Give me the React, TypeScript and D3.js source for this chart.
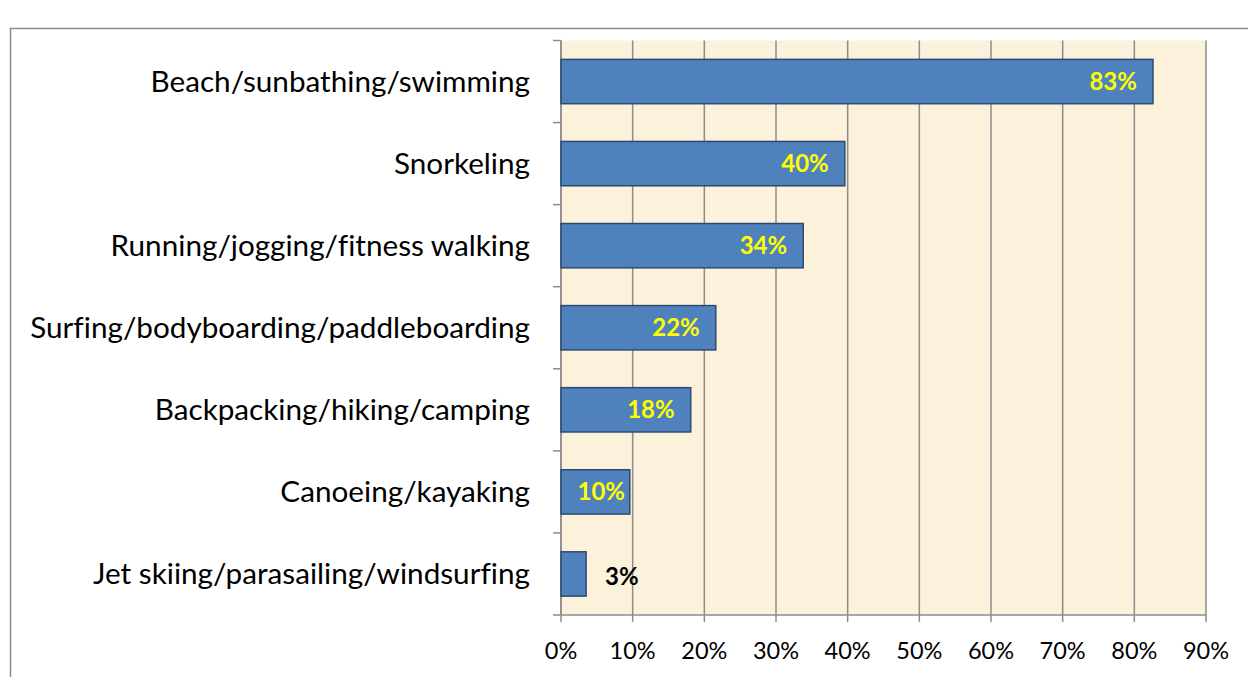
import React from "react";
import * as d3 from "d3";

const categories: string[] = [
  "Beach/sunbathing/swimming",
  "Snorkeling",
  "Running/jogging/fitness walking",
  "Surfing/bodyboarding/paddleboarding",
  "Backpacking/hiking/camping",
  "Canoeing/kayaking",
  "Jet skiing/parasailing/windsurfing",
];
const values: number[] = [82.6, 39.6, 33.8, 21.6, 18.1, 9.6, 3.5];
const valueLabels: string[] = ["83%", "40%", "34%", "22%", "18%", "10%", "3%"];
const xTicks: number[] = [0, 10, 20, 30, 40, 50, 60, 70, 80, 90];

const W = 1248;
const H = 677;
const plot = { left: 561, right: 1206, top: 40.5, bottom: 615 };
const FONT = "Lato, 'Open Sans', sans-serif";

export default function App() {
  const x = d3.scaleLinear().domain([0, 90]).range([plot.left, plot.right]);
  const y = d3
    .scaleBand<string>()
    .domain(categories)
    .range([plot.top, plot.bottom])
    .paddingInner(0.46)
    .paddingOuter(0.23);
  const step = (plot.bottom - plot.top) / categories.length;
  const boundaries = d3.range(categories.length + 1).map((i) => plot.top + i * step);

  return (
    <svg
      width={W}
      height={H}
      style={{
        position: "absolute",
        left: 0,
        top: 0,
        background: "#fff",
        fontVariantLigatures: "none",
        fontFeatureSettings: '"liga" 0, "clig" 0',
      }}
      fontFamily={FONT}
    >
      {/* outer frame */}
      <path d={`M10.5,${H} V28.5 H${W}`} fill="none" stroke="#8c8c8c" strokeWidth={1.5} />

      {/* plot background */}
      <rect
        x={plot.left}
        y={plot.top}
        width={plot.right - plot.left}
        height={plot.bottom - plot.top}
        fill="#fcf1da"
      />

      {/* gridlines */}
      {xTicks.map((t) => (
        <line
          key={"g" + t}
          x1={x(t)}
          x2={x(t)}
          y1={plot.top}
          y2={plot.bottom + 7}
          stroke="#8c8c8c"
          strokeWidth={1.5}
        />
      ))}

      {/* category axis ticks */}
      {boundaries.map((b, i) => (
        <line key={"t" + i} x1={553} x2={plot.left} y1={b} y2={b} stroke="#8c8c8c" strokeWidth={1.5} />
      ))}
      <line x1={plot.left} x2={plot.left} y1={plot.top} y2={plot.bottom} stroke="#8c8c8c" strokeWidth={1.5} />
      {/* value axis line */}
      <line x1={plot.left} x2={plot.right} y1={plot.bottom} y2={plot.bottom} stroke="#8c8c8c" strokeWidth={1.5} />

      {/* bars */}
      {categories.map((c, i) => (
        <rect
          key={"b" + c}
          x={x(0)}
          y={y(c)!}
          width={x(values[i]) - x(0)}
          height={y.bandwidth()}
          fill="#4f81bd"
          stroke="#2c4a70"
          strokeWidth={1.5}
        />
      ))}

      {/* value labels */}
      {categories.map((c, i) => {
        const end = x(values[i]);
        const cy = y(c)! + y.bandwidth() / 2;
        const inside = values[i] > 8;
        if (inside) {
          const tx = Math.max(end - 16, x(0) + 64);
          return (
            <text
              key={"v" + c}
              x={tx}
              y={cy}
              dy="0.35em"
              textAnchor="end"
              fontWeight="bold"
              fontSize={24}
              fill="#ffff00"
            >
              {valueLabels[i]}
            </text>
          );
        }
        return (
          <text
            key={"v" + c}
            x={end + 19}
            y={cy + 3}
            dy="0.35em"
            textAnchor="start"
            fontWeight="bold"
            fontSize={24}
            fill="#000"
          >
            {valueLabels[i]}
          </text>
        );
      })}

      {/* category labels */}
      {categories.map((c) => (
        <text
          key={"c" + c}
          x={530}
          y={y(c)! + y.bandwidth() / 2}
          dy="0.35em"
          textAnchor="end"
          fontSize={29.7}
          fill="#000"
        >
          {c}
        </text>
      ))}

      {/* x tick labels */}
      {xTicks.map((t) => (
        <text key={"x" + t} x={x(t)} y={651} dy="0.35em" textAnchor="middle" fontSize={23.5} fill="#000">
          {t + "%"}
        </text>
      ))}
    </svg>
  );
}
